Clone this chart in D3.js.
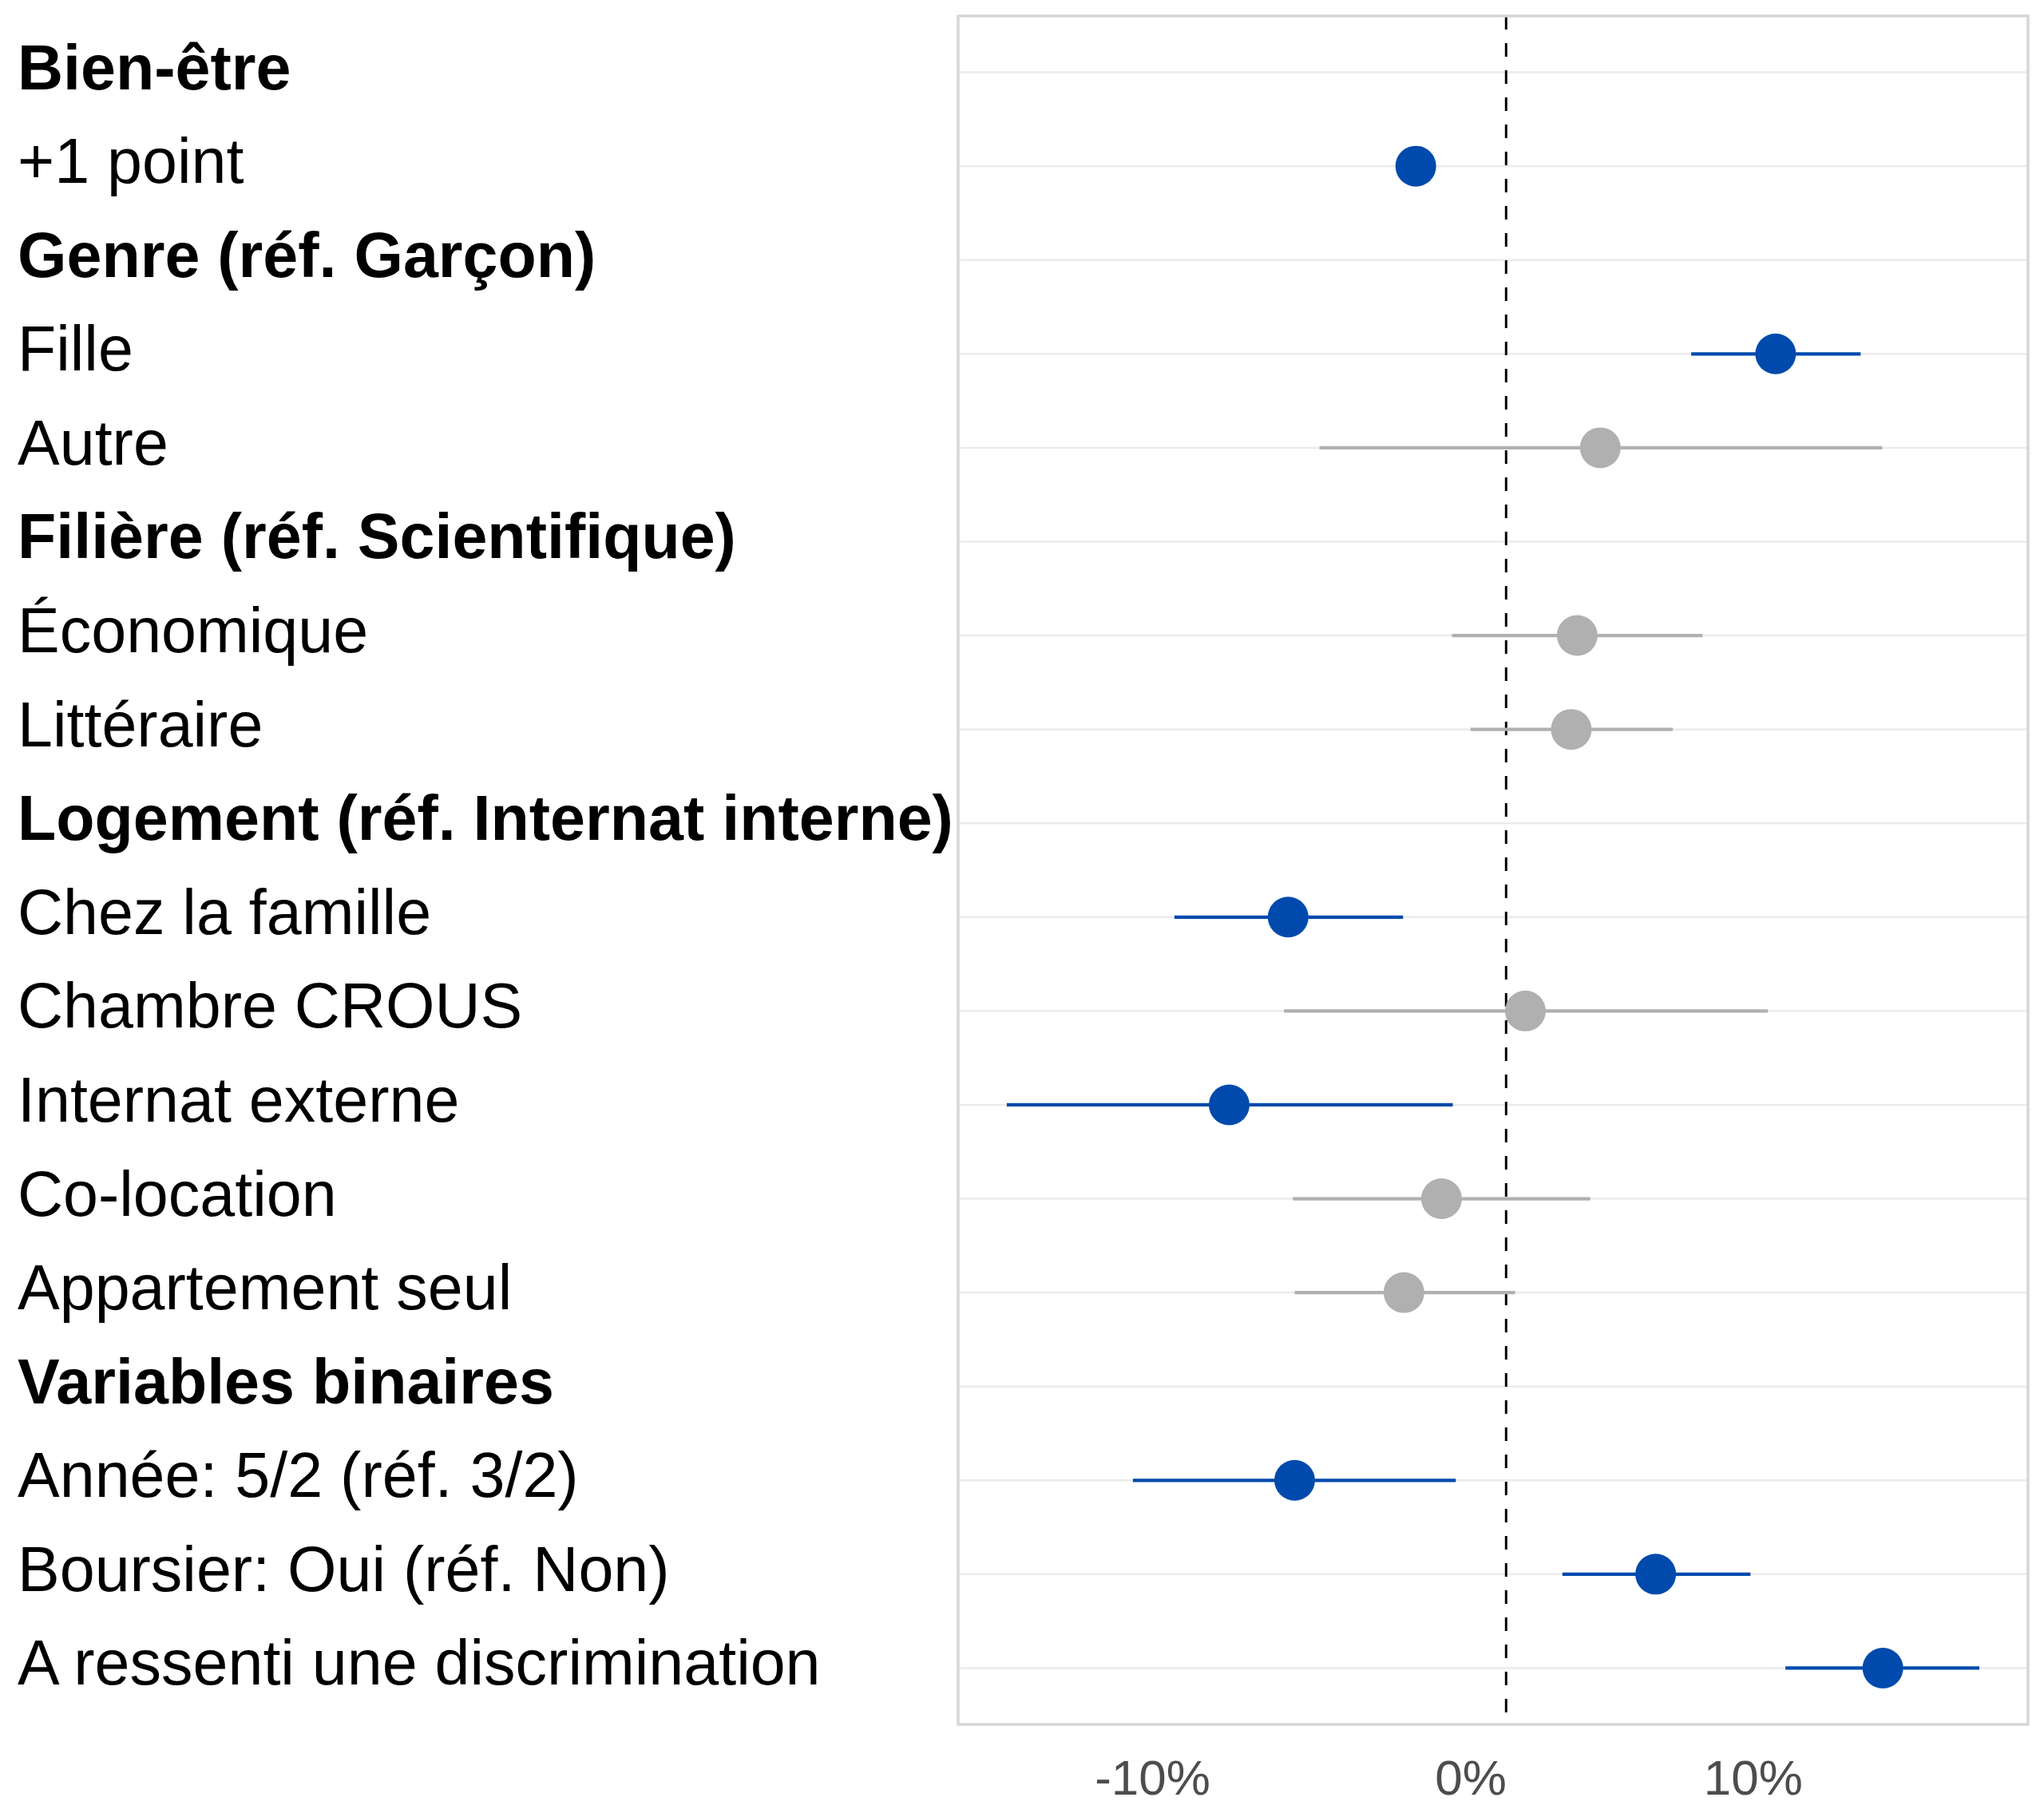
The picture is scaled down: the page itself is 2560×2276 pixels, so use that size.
<!DOCTYPE html>
<html>
<head>
<meta charset="utf-8">
<script src="https://cdn.jsdelivr.net/npm/d3@7"></script>
<style>
  html, body { margin: 0; padding: 0; background: #fff; }
  svg { display: block; font-family: "Liberation Sans", Arial, Helvetica, sans-serif; }
</style>
</head>
<body>
<div id="chart"></div>
<script>
// --- Data ---
const labels = [
  "Bien-être", "+1 point",
  "Genre (réf. Garçon)", "Fille", "Autre",
  "Filière (réf. Scientifique)", "Économique", "Littéraire",
  "Logement (réf. Internat interne)", "Chez la famille", "Chambre CROUS",
  "Internat externe", "Co-location", "Appartement seul",
  "Variables binaires", "Année: 5/2 (réf. 3/2)", "Boursier: Oui (réf. Non)",
  "A ressenti une discrimination"
];
const isHeader = [true, false, true, false, false, true, false, false, true,
  false, false, false, false, false, true, false, false, false];
// effet en % (null = ligne de titre)
const estimate = [null, -3.05, null, 9.1, 3.18, null, 2.4, 2.2, null,
  -7.36, 0.65, -9.35, -2.18, -3.45, null, -7.14, 5.05, 12.72];
const lower = [null, -3.5, null, 6.25, -6.3, null, -1.83, -1.2, null,
  -11.2, -7.5, -16.86, -7.2, -7.14, null, -12.6, 1.9, 9.43];
const upper = [null, -2.6, null, 11.97, 12.7, null, 6.63, 5.63, null,
  -3.48, 8.84, -1.8, 2.84, 0.3, null, -1.7, 8.25, 15.98];
const xTicks = [-10, 0, 10];

const width = 2560, height = 2276;
const panel = { left: 1200, right: 2540, top: 20, bottom: 2160 };
const BLUE = "#004aad", GREY = "#b0b0b0";

const rows = labels.map((l, i) => ({
  i, label: l, header: isHeader[i],
  est: estimate[i], lo: lower[i], hi: upper[i]
}));
const points = rows.filter(d => d.est !== null);

const svg = d3.select("#chart").append("svg")
  .attr("width", width)
  .attr("height", height);

svg.append("rect").attr("width", width).attr("height", height).attr("fill", "#fff");

// --- Scales ---
const lo = d3.min(points, d => d.lo), hi = d3.max(points, d => d.hi);
const pad = (hi - lo) * 0.05;
const x = d3.scaleLinear().domain([lo - pad, hi + pad]).range([panel.left, panel.right]);
const y = d3.scalePoint().domain(rows.map(d => d.i)).range([panel.top, panel.bottom]).padding(0.6);

// --- Grid lines ---
svg.append("g").selectAll("line")
  .data(rows).join("line")
  .attr("x1", panel.left).attr("x2", panel.right)
  .attr("y1", d => y(d.i)).attr("y2", d => y(d.i))
  .attr("stroke", "#ebebeb")
  .attr("stroke-width", 2.5);

// ligne de référence
svg.append("line")
  .attr("x1", x(0)).attr("x2", x(0))
  .attr("y1", panel.top).attr("y2", panel.bottom)
  .attr("stroke", "#000")
  .attr("stroke-width", 3)
  .attr("stroke-dasharray", "17,17");

// --- Intervalles + points ---
const col = d => (d.lo > 0 || d.hi < 0) ? BLUE : GREY;

svg.append("g").selectAll("line")
  .data(points).join("line")
  .attr("x1", d => x(d.lo)).attr("x2", d => x(d.hi))
  .attr("y1", d => y(d.i)).attr("y2", d => y(d.i))
  .attr("stroke", col)
  .attr("stroke-width", 4.2);

svg.append("g").selectAll("circle")
  .data(points).join("circle")
  .attr("cx", d => x(d.est))
  .attr("cy", d => y(d.i))
  .attr("r", 25.5)
  .attr("fill", col);

// cadre du panneau
svg.append("rect")
  .attr("x", panel.left).attr("y", panel.top)
  .attr("width", panel.right - panel.left)
  .attr("height", panel.bottom - panel.top)
  .attr("fill", "none")
  .attr("stroke", "#d6d6d6")
  .attr("stroke-width", 3.5);

// --- Axe x ---
svg.append("g")
  .attr("transform", `translate(0,${panel.bottom})`)
  .call(d3.axisBottom(x).tickValues(xTicks).tickSize(0).tickFormat(d => d + "%"))
  .call(g => g.select(".domain").remove())
  .call(g => g.selectAll(".tick text")
    .attr("y", 88)
    .attr("dy", 0)
    .attr("text-anchor", "end")
    .attr("fill", "#4d4d4d")
    .attr("font-size", "62px")
    .attr("font-family", "Liberation Sans, Arial, sans-serif"));

// --- Libellés ---
svg.append("g").selectAll("text")
  .data(rows).join("text")
  .attr("x", 22)
  .attr("y", d => y(d.i) + 21)
  .attr("font-size", "79px")
  .attr("font-weight", d => d.header ? "bold" : "normal")
  .attr("fill", "#000")
  .text(d => d.label);
</script>
</body>
</html>
